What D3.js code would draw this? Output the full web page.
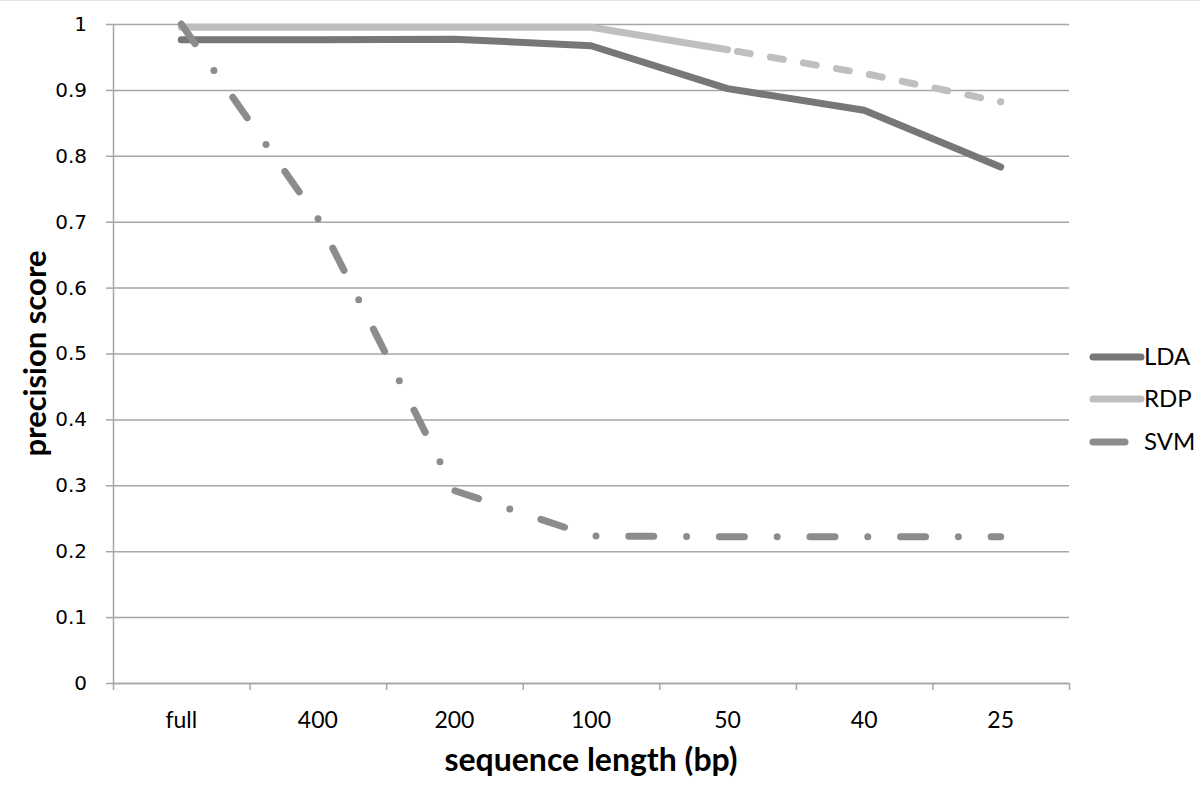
<!DOCTYPE html>
<meta charset="utf-8">
<script src="https://d3js.org/d3.v7.min.js"></script>
<style>
  body { margin: 0; background: #fff; }
  .grid line { stroke: #a6a6a6; stroke-width: 1.5px; }
  .grid path { stroke-width: 0; }
  .axis path, .axis line { stroke: #a6a6a6; stroke-width: 1.5px; }
  .ylab text { font-family: "DejaVu Sans", Verdana, sans-serif; font-size: 20px; fill: #000; }
  .xlab text { font-family: Lato, "Open Sans", sans-serif; font-size: 23px; fill: #000; }
  .title { font-family: Lato, "Open Sans", sans-serif; font-weight: bold; fill: #000; }
  .legend text { font-family: Lato, "Open Sans", sans-serif; font-size: 24px; fill: #000; }
  .series { fill: none; stroke-width: 7px; stroke-linecap: round; stroke-linejoin: round; }
</style>
<div id="chart"></div>
<script>
// data
var categories = ["full", "400", "200", "100", "50", "40", "25"];
var lda = [0.976, 0.976, 0.977, 0.967, 0.902, 0.869, 0.783];
var rdp = [0.995, 0.995, 0.995, 0.995, 0.961, 0.925, 0.882];
var svm = [1.0, 0.705, 0.292, 0.223, 0.222, 0.222, 0.222];
var yTicks = [0, 0.1, 0.2, 0.3, 0.4, 0.5, 0.6, 0.7, 0.8, 0.9, 1];
var seriesNames = ["LDA", "RDP", "SVM"];

var W = 1200, H = 788;
var margin = {top: 24, right: 131, bottom: 105, left: 113};

var svg = d3.select("#chart").append("svg")
    .attr("width", W)
    .attr("height", H);

// thin border line at the very top
svg.append("line")
    .attr("x1", 0).attr("x2", W)
    .attr("y1", 0.5).attr("y2", 0.5)
    .attr("stroke", "#e4e4e4");

var x = d3.scaleBand()
    .domain(categories)
    .range([margin.left, W - margin.right]);

var y = d3.scaleLinear()
    .domain([0, 1])
    .range([H - margin.bottom, margin.top]);

function cx(c) { return x(c) + x.bandwidth() / 2; }

// horizontal gridlines
svg.append("g")
    .attr("class", "grid")
    .attr("transform", "translate(" + margin.left + ",0)")
    .call(d3.axisLeft(y).tickValues(yTicks).tickSize(-(W - margin.right - margin.left)).tickFormat(""));

// y axis
svg.append("g")
    .attr("class", "axis ylab")
    .attr("transform", "translate(" + margin.left + ",0)")
    .call(d3.axisLeft(y).tickValues(yTicks).tickSize(7).tickSizeOuter(0).tickPadding(19)
        .tickFormat(function(d) { return String(+d.toFixed(1)); }));

// x axis - ticks sit on the band boundaries
var xb = d3.scaleLinear().domain([0, categories.length]).range(x.range());
svg.append("g")
    .attr("class", "axis")
    .attr("transform", "translate(0," + y(0) + ")")
    .call(d3.axisBottom(xb).tickValues(d3.range(categories.length + 1)).tickSize(7).tickSizeOuter(0).tickFormat(""));

svg.append("g")
    .attr("class", "xlab")
    .attr("transform", "translate(0," + y(0) + ")")
    .call(d3.axisBottom(x).tickSize(0).tickPadding(29))
    .call(function(g) { g.select(".domain").remove(); });

// axis titles
svg.append("text")
    .attr("class", "title")
    .style("font-size", "32px")
    .attr("x", (margin.left + W - margin.right) / 2)
    .attr("y", 771)
    .attr("text-anchor", "middle")
    .text("sequence length (bp)");

svg.append("text")
    .attr("class", "title")
    .style("font-size", "31px")
    .attr("transform", "translate(46," + ((y(0) + y(1)) / 2) + ") rotate(-90)")
    .attr("text-anchor", "middle")
    .text("precision score");

var line = d3.line()
    .x(function(d) { return cx(d.c); })
    .y(function(d) { return y(d.v); });

function pts(vals, from, to) {
  return categories.map(function(c, i) { return {c: c, v: vals[i]}; }).slice(from, to + 1);
}

var colors = {LDA: "#777777", RDP: "#bfbfbf", SVM: "#8c8c8c"};

// LDA
svg.append("path")
    .attr("class", "series")
    .attr("stroke", colors.LDA)
    .attr("d", line(pts(lda, 0, 6)));

// RDP: solid up to 50, dashed after
svg.append("path")
    .attr("class", "series")
    .attr("stroke", colors.RDP)
    .attr("d", line(pts(rdp, 0, 4)));
svg.append("path")
    .attr("class", "series")
    .attr("stroke", colors.RDP)
    .attr("stroke-dasharray", "13,20.5")
    .attr("stroke-dashoffset", -10)
    .attr("d", line(pts(rdp, 4, 6)));

// SVM: long dash dot
svg.append("path")
    .attr("class", "series")
    .attr("stroke", colors.SVM)
    .attr("stroke-dasharray", "25,32.8,0,32.8")
    .attr("stroke-dashoffset", 1)
    .attr("d", line(pts(svm, 0, 6)));

// legend
var legY = [357, 399, 442];
var leg = svg.append("g").attr("class", "legend");
seriesNames.forEach(function(name, i) {
  leg.append("line")
    .attr("x1", 1093)
    .attr("x2", name === "SVM" ? 1125 : 1141)
    .attr("y1", legY[i]).attr("y2", legY[i])
    .attr("stroke", colors[name])
    .attr("stroke-width", 7)
    .attr("stroke-linecap", "round");
  leg.append("text")
    .attr("x", 1144)
    .attr("y", legY[i])
    .attr("dy", "0.35em")
    .text(name);
});
</script>
